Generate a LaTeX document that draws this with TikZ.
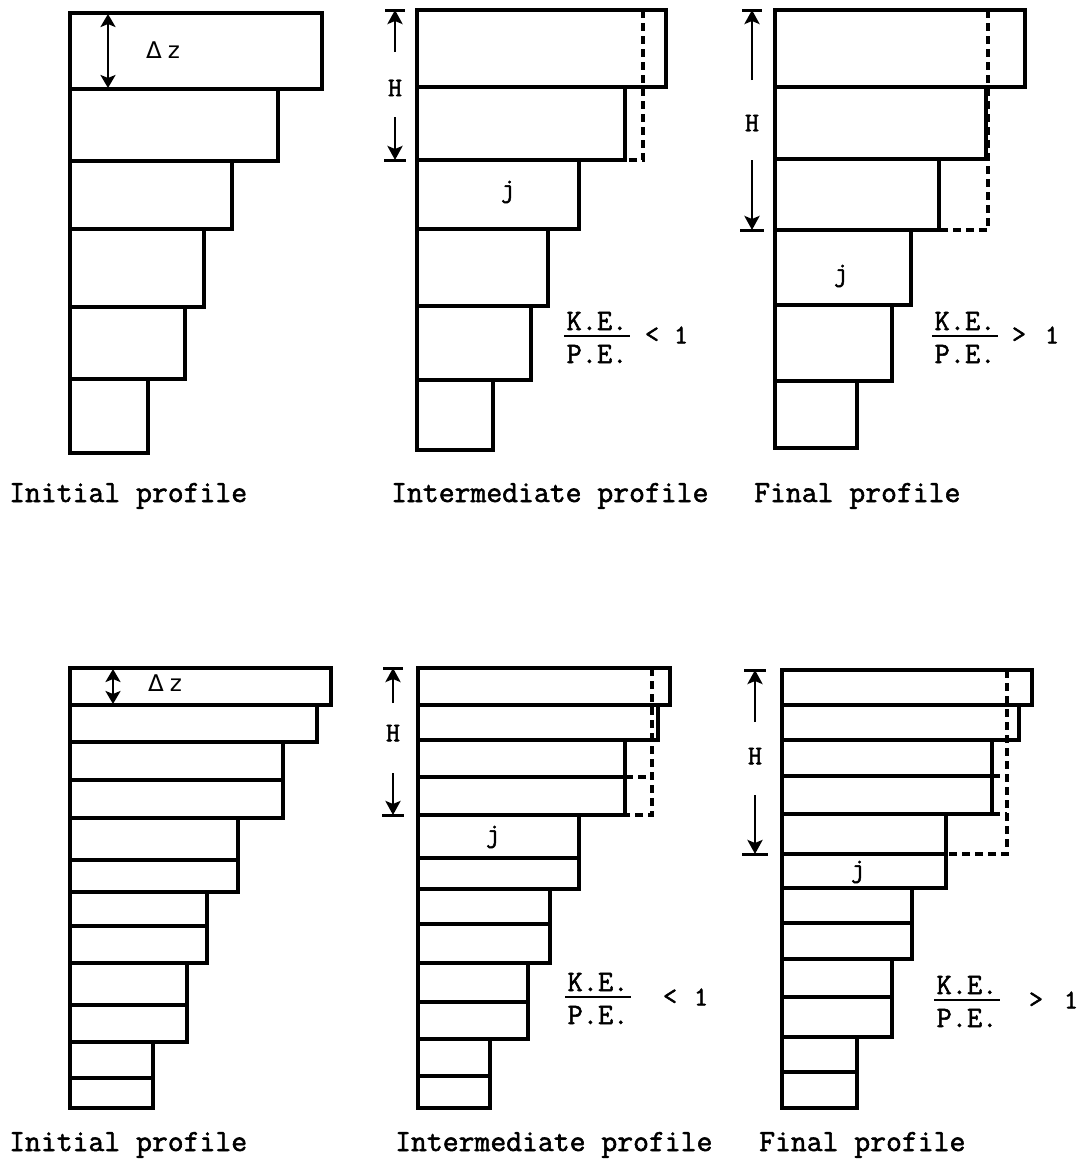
\documentclass[tikz,border=0pt]{standalone}
\usepackage{fontspec}
\setmonofont{Latin Modern Mono}[FakeBold=1.8]
\newfontfamily\dvsans{DejaVu Sans}
\usetikzlibrary{arrows.meta}
\begin{document}
\begin{tikzpicture}[x=1pt,y=-1pt,
 bar/.style={draw=black, line width=3.4pt, line join=miter},
 dsh/.style={line width=3.2pt, dash pattern=on 8pt off 5pt},
 harr/.style={line width=2.8pt, -{Stealth[length=14pt,width=15pt,inset=3pt]}},
 dzarr/.style={line width=2.8pt, {Stealth[length=13pt,width=15pt,inset=3pt]}-{Stealth[length=13pt,width=15pt,inset=3pt]}},
 tickln/.style={line width=3pt},
 lbl/.style={font=\fontsize{30.8}{34}\selectfont\ttfamily, anchor=base west, inner sep=0pt},
 sym/.style={font=\fontsize{27}{30}\selectfont\ttfamily, inner sep=0pt},
 frs/.style={font=\fontsize{29.5}{32}\selectfont\ttfamily, inner sep=0pt, anchor=base},
 dzs/.style={font=\fontsize{23}{26}\selectfont\dvsans, inner sep=0pt},
 fracln/.style={line width=1.8pt},
]
\useasboundingbox (0,0) rectangle (1082,1159);

% ---------------- top row ----------------
% initial profile
\foreach \t/\b/\r in {13/89/322, 89/161/278, 161/229/232, 229/307/204, 307/379/185, 379/453/148}
  \draw[bar] (70,\t) rectangle (\r,\b);
\draw[dzarr] (108,14) -- (108,88);
\node[dzs] (t1dz) at (163,50) {Δ\hspace{6pt}z};

% intermediate profile
\foreach \t/\b/\r in {10/87/666, 87/160/625, 160/229/579, 229/306/548, 306/380/531, 380/450/493}
  \draw[bar] (417,\t) rectangle (\r,\b);
\draw[dsh] (643,10) -- (643,160) -- (625,160);
\draw[harr] (395,52) -- (395,10);
\draw[tickln] (385,10) -- (405,10);
\draw[harr] (395,117) -- (395,160);
\draw[tickln] (384,160) -- (406,160);
\node[sym] (t2H) at (395,88) {H};
\node[sym] (t2j) at (508,192) {j};
\node[frs] (t2ke) at (597,330) {K.E.};
\node[frs] (t2pe) at (597,363) {P.E.};
\draw[fracln] (564,336) -- (630,336);
\node[sym] (t2lt) at (652,335) {<};
\node[sym] (t2one) at (681,335) {1};

% final profile
\foreach \t/\b/\r in {10/87/1025, 87/159/986, 159/230/939, 230/305/911, 305/381/892, 381/448/857}
  \draw[bar] (775,\t) rectangle (\r,\b);
\draw[dsh] (988,10) -- (988,230) -- (939,230);
\draw[harr] (752,80) -- (752,10);
\draw[tickln] (742,10) -- (762,10);
\draw[harr] (752,160) -- (752,230);
\draw[tickln] (740,230) -- (764,230);
\node[sym] (t3H) at (752,123) {H};
\node[sym] (t3j) at (841,276) {j};
\node[frs] (t3ke) at (965,330) {K.E.};
\node[frs] (t3pe) at (965,363) {P.E.};
\draw[fracln] (932,336) -- (998,336);
\node[sym] (t3gt) at (1019,335) {>};
\node[sym] (t3one) at (1052,335) {1};

\node[lbl] (t1lab) at (9,502) {Initial profile};
\node[lbl] (t2lab) at (391,502) {Intermediate profile};
\node[lbl] (t3lab) at (754,502) {Final profile};

% ---------------- bottom row ----------------
\foreach \t/\b/\r in {668/705/331, 705/742/317, 742/780/283, 780/818/283, 818/860/238, 860/892/238,
  892/926/207, 926/963/207, 963/1005/187, 1005/1042/187, 1042/1078/153, 1078/1108/153}
  \draw[bar] (70,\t) rectangle (\r,\b);
\draw[dzarr] (113,669) -- (113,704);
\node[dzs] (b1dz) at (165,683) {Δ\hspace{6pt}z};

\foreach \t/\b/\r in {668/705/670, 705/740/658, 740/777/625, 777/815/625, 815/858/579, 858/889/579,
  889/924/550, 924/963/550, 963/1002/528, 1002/1039/528, 1039/1076/490, 1076/1108/490}
  \draw[bar] (418,\t) rectangle (\r,\b);
\draw[dsh] (652,668) -- (652,815) -- (625,815);
\draw[dsh] (625,777) -- (652,777);
\draw[harr] (393,703) -- (393,668);
\draw[tickln] (383,668) -- (403,668);
\draw[harr] (393,773) -- (393,815);
\draw[tickln] (382,815) -- (404,815);
\node[sym] (b2H) at (393,733) {H};
\node[sym] (b2j) at (493,837) {j};
\node[frs] (b2ke) at (598,991) {K.E.};
\node[frs] (b2pe) at (598,1024) {P.E.};
\draw[fracln] (565,997) -- (631,997);
\node[sym] (b2lt) at (670,997) {<};
\node[sym] (b2one) at (701,997) {1};

\foreach \t/\b/\r in {670/705/1032, 705/740/1019, 740/776/992, 776/814/992, 814/854/946, 854/888/946,
  888/923/912, 923/959/912, 959/997/892, 997/1037/892, 1037/1072/857, 1072/1108/857}
  \draw[bar] (782,\t) rectangle (\r,\b);
\draw[dsh] (1007,670) -- (1007,854) -- (946,854);
\draw[dsh] (992,776) -- (1007,776);
\draw[dsh] (992,814) -- (1007,814);
\draw[harr] (755,722) -- (755,670);
\draw[tickln] (744,670) -- (766,670);
\draw[harr] (755,795) -- (755,854);
\draw[tickln] (742,854) -- (768,854);
\node[sym] (b3H) at (755,756) {H};
\node[sym] (b3j) at (858,872) {j};
\node[frs] (b3ke) at (967,994) {K.E.};
\node[frs] (b3pe) at (967,1027) {P.E.};
\draw[fracln] (934,1000) -- (1000,1000);
\node[sym] (b3gt) at (1036,1000) {>};
\node[sym] (b3one) at (1071,1000) {1};

\node[lbl] (b1lab) at (9,1151) {Initial profile};
\node[lbl] (b2lab) at (395,1151) {Intermediate profile};
\node[lbl] (b3lab) at (759,1151) {Final profile};
\end{tikzpicture}
\end{document}
